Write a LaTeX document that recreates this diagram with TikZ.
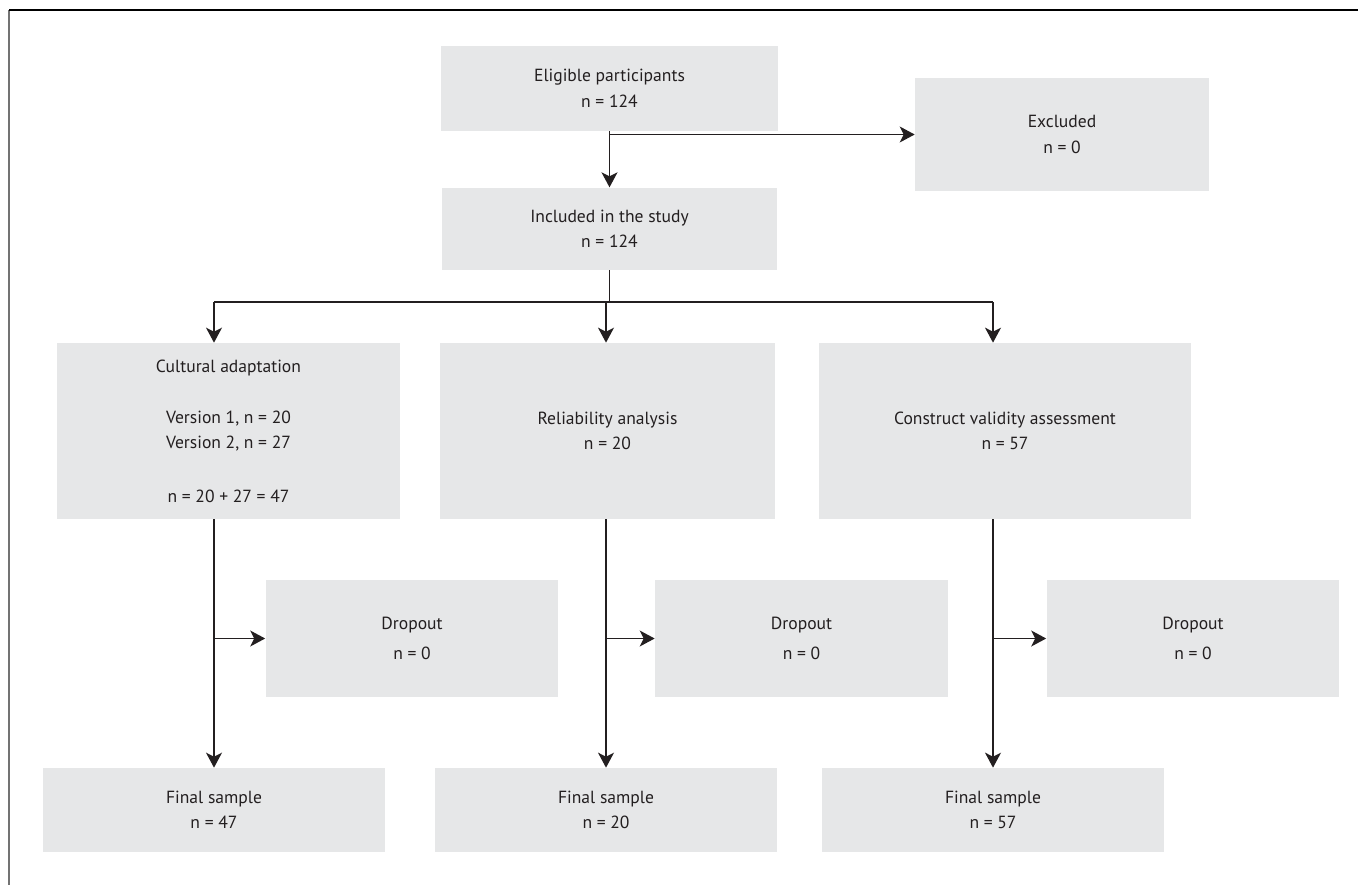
\documentclass[tikz,border=0pt]{standalone}
\usepackage{fontspec}
\setmainfont{PT Sans}
\usepackage{tikz}
\usetikzlibrary{arrows.meta, positioning}
\definecolor{boxgray}{HTML}{E6E7E8}
\definecolor{ink}{HTML}{231F20}

\begin{document}
\begin{tikzpicture}[
  x=0.02cm, y=-0.02cm,
  box/.style={fill=boxgray, inner sep=0pt, align=center, text=ink,
              font=\fontsize{10}{14.5}\selectfont},
  wide/.style={box, minimum width=6.86cm},
  drop/.style={box, minimum width=5.86cm, minimum height=2.34cm},
  arr/.style={-{Stealth[length=0.3cm, width=0.32cm, inset=0.08cm]}, line width=0.85pt, draw=ink},
  link/.style={line width=0.85pt, draw=ink},
]
  \useasboundingbox (0,0) rectangle (1358,885);
  \draw[line width=0.6pt, black!55] (9,885) -- (9,10);
  \draw[line width=0.6pt, black] (9,10) -- (1358,10);

  \node[box, minimum width=6.74cm, minimum height=1.70cm] (eligible) at (609.5,88.5) {Eligible participants\\n = 124};
  \node[box, minimum width=6.70cm, minimum height=1.64cm, below=1.12cm of eligible] (included) {Included in the study\\n = 124};
  \node[box, minimum width=5.88cm, minimum height=2.26cm] (excluded) at (1062,134.5) {Excluded\\n = 0};

  \node[wide, minimum height=3.52cm] (cultural) at (228.5,431) {Cultural adaptation\\[14.5pt]Version 1, n = 20\\Version 2, n = 27\\[16pt]n = 20 + 27 = 47};
  \node[box, minimum width=6.70cm, minimum height=3.52cm] (reliab) at (607.5,431) {Reliability analysis\\n = 20};
  \node[box, minimum width=7.44cm, minimum height=3.52cm] (construct) at (1005,431) {Construct validity assessment\\n = 57};

  \node[drop] (drop1) at (412,638.5) {Dropout\\[2.5pt]n = 0};
  \node[drop] (drop2) at (801.5,638.5) {Dropout\\[2.5pt]n = 0};
  \node[drop] (drop3) at (1193,638.5) {Dropout\\[2.5pt]n = 0};

  \node[wide, minimum height=1.68cm] (final1) at (214,810) {Final sample\\n = 47};
  \node[wide, minimum height=1.68cm] (final2) at (606,810) {Final sample\\n = 20};
  \node[wide, minimum height=1.68cm] (final3) at (993,810) {Final sample\\n = 57};

  \draw[arr] (eligible) -- (included);
  \draw[arr] (eligible.south |- excluded.west) -- (excluded.west);

  \draw[link] (included.south) -- ++(0,32) coordinate (split);
  \draw[link] (split -| final1) -- (split -| final3);
  \draw[arr] (split -| final1) -- (cultural.north -| final1);
  \draw[arr] (split -| final2) -- (reliab.north -| final2);
  \draw[arr] (split -| final3) -- (construct.north -| final3);

  \draw[arr] (cultural.south -| final1) -- (final1);
  \draw[arr] (reliab.south -| final2) -- (final2);
  \draw[arr] (construct.south -| final3) -- (final3);
  \draw[arr] (final1 |- drop1.west) -- (drop1.west);
  \draw[arr] (final2 |- drop2.west) -- (drop2.west);
  \draw[arr] (final3 |- drop3.west) -- (drop3.west);
\end{tikzpicture}
\end{document}
